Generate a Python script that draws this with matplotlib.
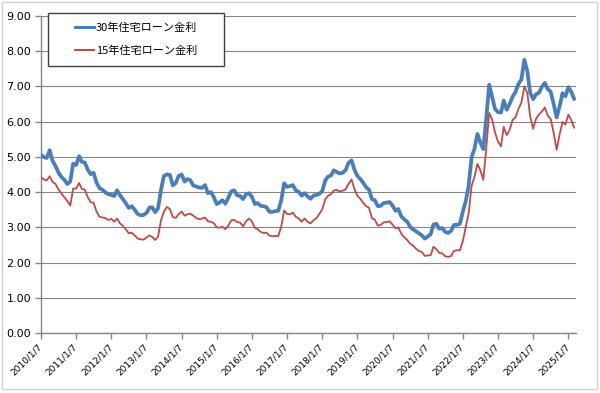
import numpy as np
import pandas as pd
import matplotlib
matplotlib.use('Agg')
import matplotlib.pyplot as plt
import matplotlib.patches as patches

plt.rcParams['font.family'] = ['DejaVu Sans', 'Noto Sans CJK JP']

# monthly readings, Jan 2010 .. Mar 2025
rate_30y = [
    5.06, 4.99, 4.97, 5.19, 4.89, 4.74, 4.56, 4.43, 4.35, 4.23, 4.30, 4.81,  # 2010
    4.77, 5.02, 4.86, 4.84, 4.64, 4.51, 4.55, 4.27, 4.11, 4.07, 3.99, 3.94,  # 2011
    3.92, 3.89, 4.05, 3.91, 3.80, 3.68, 3.55, 3.60, 3.50, 3.38, 3.34, 3.35,  # 2012
    3.41, 3.56, 3.57, 3.43, 3.54, 4.07, 4.46, 4.50, 4.49, 4.19, 4.26, 4.46,  # 2013
    4.50, 4.30, 4.37, 4.34, 4.19, 4.16, 4.13, 4.12, 4.20, 3.97, 4.00, 3.86,  # 2014
    3.66, 3.71, 3.77, 3.67, 3.84, 4.02, 4.05, 3.91, 3.89, 3.80, 3.94, 3.97,  # 2015
    3.87, 3.66, 3.69, 3.61, 3.60, 3.57, 3.44, 3.44, 3.46, 3.47, 3.77, 4.25,  # 2016
    4.15, 4.17, 4.20, 4.05, 4.01, 3.90, 3.97, 3.88, 3.81, 3.90, 3.92, 3.95,  # 2017
    4.03, 4.33, 4.44, 4.47, 4.62, 4.57, 4.53, 4.55, 4.63, 4.83, 4.90, 4.64,  # 2018
    4.46, 4.37, 4.27, 4.14, 4.07, 3.80, 3.77, 3.60, 3.61, 3.69, 3.70, 3.72,  # 2019
    3.62, 3.47, 3.52, 3.31, 3.23, 3.16, 3.02, 2.94, 2.89, 2.83, 2.77, 2.68,  # 2020
    2.74, 2.81, 3.08, 3.10, 2.96, 2.98, 2.87, 2.84, 2.90, 3.07, 3.07, 3.10,  # 2021
    3.45, 3.76, 4.17, 4.98, 5.23, 5.65, 5.41, 5.22, 6.11, 7.05, 6.70, 6.36,  # 2022
    6.27, 6.26, 6.60, 6.34, 6.50, 6.71, 6.84, 7.07, 7.20, 7.76, 7.44, 6.82,  # 2023
    6.64, 6.78, 6.82, 6.99, 7.10, 6.92, 6.85, 6.50, 6.12, 6.43, 6.81, 6.72,  # 2024
    6.98, 6.84, 6.65,                                                        # 2025
]
rate_15y = [
    4.42, 4.36, 4.33, 4.45, 4.29, 4.23, 4.08, 3.96, 3.85, 3.75, 3.62, 4.10,
    4.10, 4.26, 4.09, 4.07, 3.86, 3.71, 3.70, 3.45, 3.30, 3.28, 3.26, 3.21,
    3.24, 3.16, 3.25, 3.11, 3.04, 2.94, 2.83, 2.85, 2.77, 2.68, 2.66, 2.65,
    2.71, 2.77, 2.73, 2.64, 2.73, 3.20, 3.45, 3.58, 3.52, 3.29, 3.27, 3.37,
    3.45, 3.33, 3.37, 3.39, 3.33, 3.27, 3.23, 3.25, 3.28, 3.17, 3.16, 3.12,
    3.00, 2.99, 3.02, 2.95, 3.05, 3.20, 3.21, 3.15, 3.13, 3.03, 3.17, 3.25,
    3.17, 2.98, 2.95, 2.87, 2.84, 2.85, 2.76, 2.75, 2.76, 2.75, 3.02, 3.48,
    3.38, 3.37, 3.42, 3.30, 3.25, 3.16, 3.25, 3.16, 3.11, 3.20, 3.26, 3.38,
    3.51, 3.80, 3.89, 3.94, 4.05, 4.06, 4.02, 4.04, 4.08, 4.23, 4.36, 4.09,
    3.89, 3.81, 3.70, 3.60, 3.56, 3.26, 3.22, 3.05, 3.07, 3.14, 3.15, 3.17,
    3.08, 2.97, 3.00, 2.82, 2.72, 2.64, 2.54, 2.48, 2.39, 2.33, 2.30, 2.19,
    2.20, 2.21, 2.45, 2.38, 2.27, 2.26, 2.18, 2.16, 2.19, 2.33, 2.35, 2.35,
    2.62, 3.03, 3.39, 4.17, 4.43, 4.80, 4.62, 4.35, 5.25, 6.25, 6.06, 5.69,
    5.43, 5.30, 5.85, 5.62, 5.76, 6.05, 6.12, 6.36, 6.54, 7.00, 6.82, 6.15,
    5.80, 6.09, 6.20, 6.29, 6.40, 6.17, 6.08, 5.68, 5.20, 5.63, 5.99, 5.92,
    6.20, 6.04, 5.83,
]
labels = ['30年住宅ローン金利', '15年住宅ローン金利']
tick_years = list(range(2010, 2026))

dates = pd.date_range('2010-01-01', periods=len(rate_30y), freq='MS') + pd.Timedelta(days=6)
tick_dates = [pd.Timestamp(f'{y}-01-07') for y in tick_years]
tick_labels = [f'{y}/1/7' for y in tick_years]

fig = plt.figure(figsize=(6.0, 3.93), dpi=100)
ax = fig.add_axes([41/600, 60/393, 535/600, 317/393])

ax.plot(dates, rate_30y, color='#4A7EBB', lw=2.7, label=labels[0], zorder=3)
ax.plot(dates, rate_15y, color='#BE4B48', lw=1.3, label=labels[1], zorder=3)

ax.set_ylim(0, 9)
ax.set_yticks(np.arange(0, 10, 1))
ax.set_yticklabels([f'{v:.2f}' for v in np.arange(0, 10, 1)], fontsize=8)
ax.set_xlim(pd.Timestamp('2010-01-07'), pd.Timestamp('2025-03-27'))
ax.set_xticks(tick_dates)
ax.set_xticklabels(tick_labels, fontsize=6.5, rotation=45, ha='right',
                   va='center', rotation_mode='anchor')
ax.tick_params(axis='x', length=4, width=1, color='#868686', pad=5)
ax.tick_params(axis='y', length=4, width=1, color='#868686', pad=3)

ax.grid(axis='y', color='#868686', lw=0.8)
ax.set_axisbelow(True)
for s in ['top', 'right']:
    ax.spines[s].set_visible(False)
for s in ['left', 'bottom']:
    ax.spines[s].set_color('#868686')
    ax.spines[s].set_linewidth(1)

# legend box
box = patches.Rectangle((48/600, 1 - 66/393), 176/600, 53/393, transform=fig.transFigure,
                        facecolor='white', edgecolor='#404040', lw=1, zorder=5)
fig.patches.append(box)
leg = fig.legend(loc='center', bbox_to_anchor=(136/600, 1 - 39.5/393), frameon=False,
                 prop={'family': ['Noto Sans CJK JP'], 'size': 8},
                 handlelength=1.7, handletextpad=0.15, labelspacing=1.15)
leg.set_zorder(6)
for h in leg.legend_handles:
    h.set_linewidth(2.2 if h.get_color() == '#4A7EBB' else 1.4)

# outer border
fig.patches.append(patches.Rectangle((2/600, 1 - 389/393), 595/600, 387/393,
                                     transform=fig.transFigure, fill=False,
                                     edgecolor='#D0D0D0', lw=1))

fig.savefig('out.png', dpi=100)
